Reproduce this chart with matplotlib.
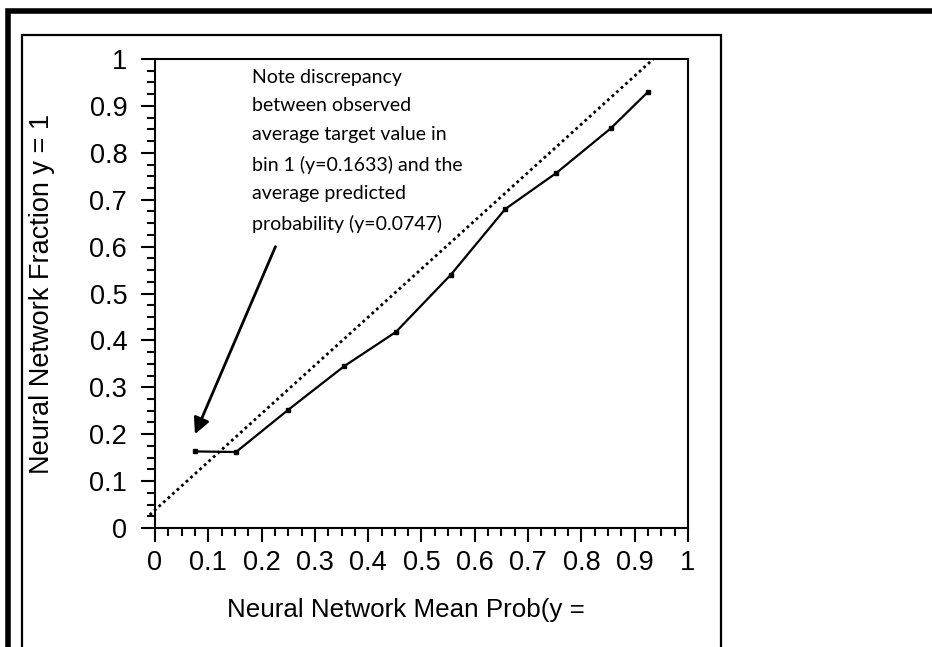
import matplotlib
matplotlib.use("Agg")
import matplotlib.pyplot as plt
from matplotlib import font_manager
from matplotlib.patches import Rectangle
from matplotlib.ticker import MultipleLocator

# Calibration bins: mean predicted probability vs observed fraction
mean_prob = [0.0747, 0.152, 0.250, 0.355, 0.452, 0.555, 0.657, 0.753, 0.855, 0.925]
fraction_pos = [0.1633, 0.162, 0.252, 0.345, 0.418, 0.540, 0.680, 0.757, 0.852, 0.930]

# Dotted reference line end points
ref_x = [-0.01, 0.935]
ref_y = [0.028, 1.0]

tick_vals = [0, 0.1, 0.2, 0.3, 0.4, 0.5, 0.6, 0.7, 0.8, 0.9, 1]
tick_labels = ["0", "0.1", "0.2", "0.3", "0.4", "0.5", "0.6", "0.7", "0.8", "0.9", "1"]

note_lines = [
    "Note discrepancy",
    "between observed",
    "average target value in",
    "bin 1 (y=0.1633) and the",
    "average predicted",
    "probability (y=0.0747)",
]
arrow_tail = (0.226, 0.600)
arrow_head = (0.075, 0.200)

xlabel = "Neural Network Mean Prob(y ="
ylabel = "Neural Network Fraction y = 1"

# Condensed face for the tick numbers when it is installed
try:
    font_manager.findfont("Liberation Sans Narrow", fallback_to_default=False)
    tick_font, tick_size, xpad = "Liberation Sans Narrow", 22, 4
except ValueError:
    tick_font, tick_size, xpad = "Liberation Sans", 19.5, 6

W, H = 932, 647
fig = plt.figure(figsize=(W / 100, H / 100), dpi=100)
fig.patch.set_facecolor("white")

# Frames drawn in pixel coordinates of the figure
def px_rect(x0, y0, x1, y1, lw):
    r = Rectangle((x0 / W, 1 - y1 / H), (x1 - x0) / W, (y1 - y0) / H,
                  transform=fig.transFigure, fill=False, edgecolor="black",
                  linewidth=lw, clip_on=False)
    fig.add_artist(r)

px_rect(8, 11, 1000, 700, 4.0)
px_rect(22, 35, 721, 700, 1.6)

ax = fig.add_axes([155 / W, 1 - 528 / H, (688 - 155) / W, (528 - 59) / H])
ax.set_xlim(0, 1)
ax.set_ylim(0, 1)

ax.plot(ref_x, ref_y, color="black", linestyle=(0, (1, 1.2)), linewidth=2.0,
        clip_on=False, zorder=2)
ax.plot(mean_prob, fraction_pos, color="black", linewidth=1.6, marker="s",
        markersize=3.2, zorder=3, clip_on=False)

for side in ax.spines.values():
    side.set_linewidth(1.5)

ax.set_xticks(tick_vals)
ax.set_xticklabels(tick_labels)
ax.set_yticks(tick_vals)
ax.set_yticklabels(tick_labels)
ax.xaxis.set_minor_locator(MultipleLocator(0.025))
ax.yaxis.set_minor_locator(MultipleLocator(0.025))
ax.tick_params(which="major", direction="out", length=10, width=1.5,
               labelsize=tick_size, top=False, right=False)
ax.tick_params(axis="x", which="major", pad=xpad)
ax.tick_params(axis="y", which="major", pad=10)
ax.tick_params(which="minor", direction="out", length=5.5, width=1.5,
               top=False, right=False)
for lab in ax.get_xticklabels() + ax.get_yticklabels():
    lab.set_fontfamily(tick_font)

ax.set_xlabel(xlabel, fontsize=18.7, family="Liberation Sans")
ax.set_ylabel(ylabel, fontsize=19.5, family="Liberation Sans")
ax.xaxis.set_label_coords(0.471, -0.175)
ax.xaxis.label.set_va("center")
ax.yaxis.set_label_coords(-0.212, 0.5)
ax.yaxis.label.set_va("center")

ax.text(0.182, 0.979, "\n".join(note_lines), fontsize=14, family="Lato",
        ha="left", va="top", linespacing=1.83, transform=ax.transData)

ax.annotate("", xy=arrow_head, xytext=arrow_tail,
            arrowprops=dict(arrowstyle="-|>", color="black", lw=2.0,
                            mutation_scale=24, shrinkA=0, shrinkB=0))

fig.savefig("out.png", dpi=100)
